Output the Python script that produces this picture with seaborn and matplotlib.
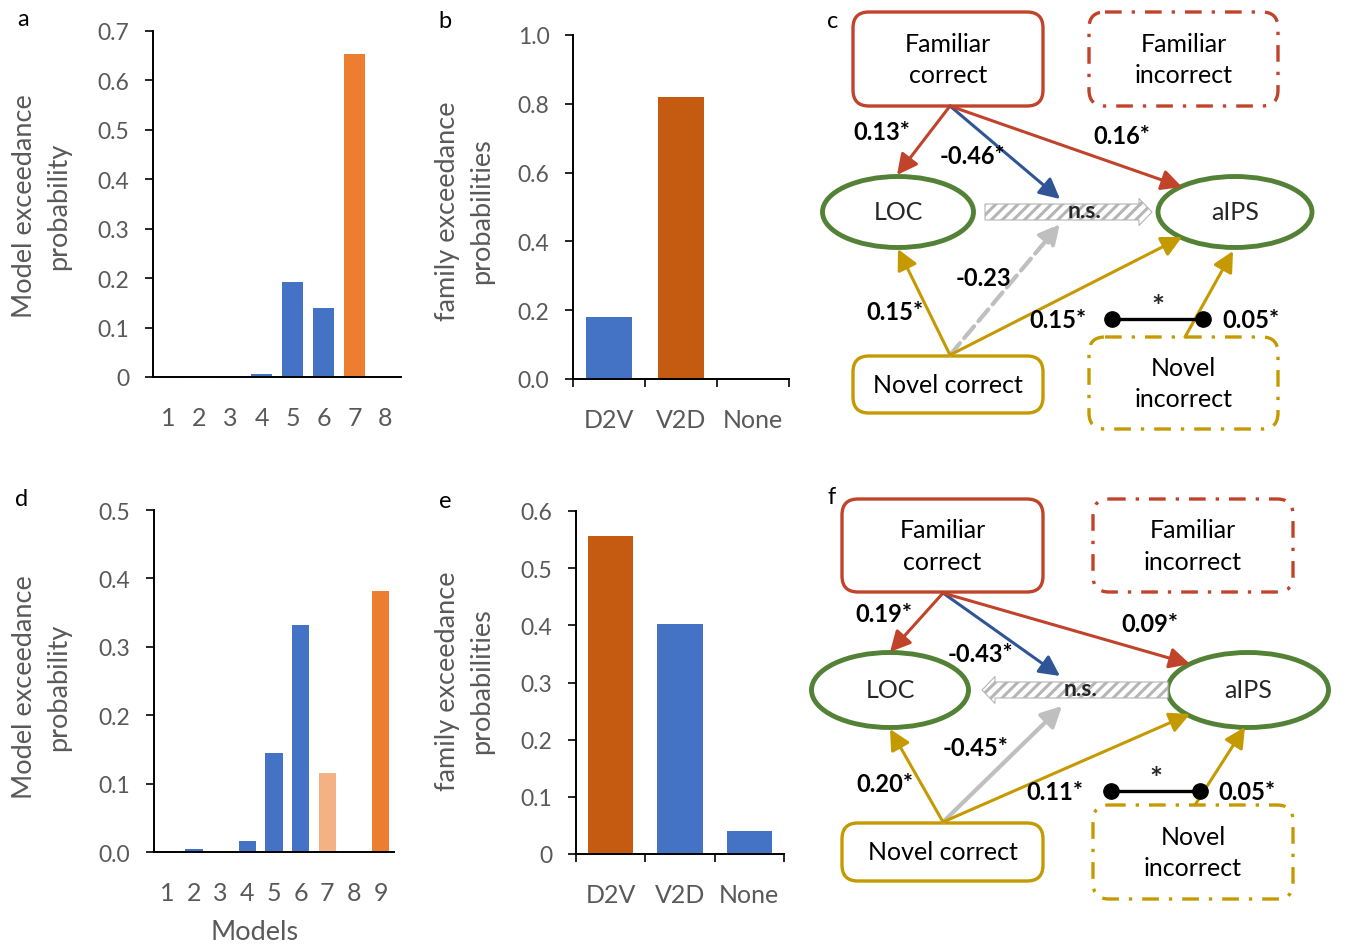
import numpy as np
import pandas as pd
import seaborn as sns
import matplotlib.pyplot as plt
from matplotlib.patches import FancyBboxPatch, Ellipse, FancyArrowPatch, FancyArrow

# ---- data ----
models_a = ["1", "2", "3", "4", "5", "6", "7", "8"]
exceed_a = [0.0, 0.003, 0.0, 0.006, 0.193, 0.139, 0.654, 0.0]

families = ["D2V", "V2D", "None"]
family_b = [0.180, 0.819, 0.0]

models_d = ["1", "2", "3", "4", "5", "6", "7", "8", "9"]
exceed_d = [0.0015, 0.005, 0.0, 0.016, 0.145, 0.332, 0.116, 0.0, 0.381]

family_e = [0.556, 0.403, 0.041]

# path coefficients: fam->LOC, fam->ns, fam->aIPS, nov->ns, nov->LOC, nov->aIPS, novinc->aIPS
coef_c = ["0.13*", "-0.46*", "0.16*", "-0.23", "0.15*", "0.15*", "0.05*"]
coef_f = ["0.19*", "-0.43*", "0.09*", "-0.45*", "0.20*", "0.11*", "0.05*"]

BLUE = "#4472C4"
ORANGE = "#ED7D31"
DARK_ORANGE = "#C55A11"
LIGHT_ORANGE = "#F4B183"
GRAY_TXT = "#595959"
RED = "#C0432A"
NAVY = "#2F5597"
GOLD = "#C49A00"
GREEN = "#538135"
LGRAY = "#BFBFBF"

sns.set_style("ticks")
plt.rcParams["font.family"] = ["Lato", "DejaVu Sans"]
plt.rcParams["hatch.linewidth"] = 2.2

W, H = 1354, 945
fig = plt.figure(figsize=(W / 100, H / 100), dpi=100)


def px_axes(l, t, r, b):
    return fig.add_axes([l / W, 1 - b / H, (r - l) / W, (b - t) / H])


def bar_panel(ax, cats, vals, pal, ymax, yticks, ylabs, boundary_ticks):
    df = pd.DataFrame({"cat": cats, "val": vals})
    sns.barplot(data=df, x="cat", y="val", hue="cat", palette=pal, legend=False,
                width=0.65, saturation=1, edgecolor="none", ax=ax)
    ax.set_xlim(-0.5, len(cats) - 0.5)
    ax.set_ylim(0, ymax)
    ax.set_yticks(yticks)
    ax.set_yticklabels(ylabs)
    ax.set_xlabel("")
    ax.set_ylabel("")
    sns.despine(ax=ax)
    for s in ["left", "bottom"]:
        ax.spines[s].set_linewidth(1.4)
        ax.spines[s].set_color("black")
    ax.tick_params(axis="y", length=6, width=1.4, pad=11, labelsize=16.5, labelcolor=GRAY_TXT)
    ax.tick_params(axis="x", which="major", length=0, pad=21, labelsize=18, labelcolor=GRAY_TXT)
    if boundary_ticks:
        ax.set_xticks(np.arange(-0.5, len(cats)), minor=True)
        ax.tick_params(axis="x", which="minor", length=6, width=1.4, direction="out")


# panel a
ax_a = px_axes(153, 32, 401, 378)
pal_a = [BLUE] * 6 + [ORANGE, BLUE]
bar_panel(ax_a, models_a, exceed_a, pal_a, 0.7, np.arange(0, 0.71, 0.1),
          ["0", "0.1", "0.2", "0.3", "0.4", "0.5", "0.6", "0.7"], False)

# panel b
ax_b = px_axes(573, 36, 789, 380)
bar_panel(ax_b, families, family_b, [BLUE, DARK_ORANGE, BLUE], 1.0, np.arange(0, 1.01, 0.2),
          ["0.0", "0.2", "0.4", "0.6", "0.8", "1.0"], True)

# panel d
ax_d = px_axes(154, 511, 394, 853)
pal_d = [BLUE] * 6 + [LIGHT_ORANGE, BLUE, ORANGE]
bar_panel(ax_d, models_d, exceed_d, pal_d, 0.5, np.arange(0, 0.51, 0.1),
          ["0.0", "0.1", "0.2", "0.3", "0.4", "0.5"], False)

# panel e
ax_e = px_axes(576, 512, 784, 855)
bar_panel(ax_e, families, family_e, [DARK_ORANGE, BLUE, BLUE], 0.6, np.arange(0, 0.61, 0.1),
          ["0", "0.1", "0.2", "0.3", "0.4", "0.5", "0.6"], True)


def ftext(x, y, s, **kw):
    fig.text(x / W, 1 - y / H, s, **kw)


ylab_kw = dict(rotation=90, ha="center", va="center", multialignment="center",
               fontsize=19.5, color=GRAY_TXT, linespacing=1.45)
ftext(42, 206, "Model exceedance\nprobability", **ylab_kw)
ftext(42, 687, "Model exceedance\nprobability", **ylab_kw)
ftext(465, 211, "family exceedance\nprobabilities", **ylab_kw)
ftext(465, 681, "family exceedance\nprobabilities", **ylab_kw)
ftext(255, 933, "Models", ha="center", va="center", fontsize=19.5, color=GRAY_TXT)

for s, x, y in [("a", 23, 20), ("b", 445, 21), ("c", 833, 21),
                ("d", 22, 500), ("e", 445, 502), ("f", 832, 498)]:
    ftext(x, y, s, ha="center", va="center", fontsize=17, color="black")

# ---- path diagrams (c, f), drawn in pixel coordinates ----
ax_g = fig.add_axes([800 / W, 0, 554 / W, 1])
ax_g.set_xlim(800, W)
ax_g.set_ylim(H, 0)
ax_g.axis("off")

DASHDOT = (0, (5, 3, 1, 3))


def box(x0, y0, x1, y1, color, text, dashed):
    p = FancyBboxPatch((x0, y0), x1 - x0, y1 - y0, boxstyle="round,pad=0,rounding_size=16",
                       fc="white", ec=color, lw=2.4, ls=DASHDOT if dashed else "-", zorder=2)
    ax_g.add_patch(p)
    ax_g.text((x0 + x1) / 2, (y0 + y1) / 2, text, ha="center", va="center", fontsize=18,
              linespacing=1.43, color="black", zorder=3)


def arrow(p0, p1, color, ls="-", lw=2.2):
    a = FancyArrowPatch(p0, p1, arrowstyle="-|>,head_length=0.65,head_width=0.33",
                        mutation_scale=19, color=color, lw=lw, ls=ls, shrinkA=0, shrinkB=0,
                        zorder=4)
    ax_g.add_patch(a)


def diagram(L, coefs, nov_ls):
    box(*L["fc"], RED, "Familiar\ncorrect", False)
    box(*L["fi"], RED, "Familiar\nincorrect", True)
    box(*L["nc"], GOLD, "Novel correct", False)
    box(*L["ni"], GOLD, "Novel\nincorrect", True)
    for key, name in [("loc", "LOC"), ("aips", "aIPS")]:
        cx, cy, w, h = L[key]
        ax_g.add_patch(Ellipse((cx, cy), w, h, fc="white", ec=GREEN, lw=3.5, zorder=2))
        ax_g.text(cx, cy, name, ha="center", va="center", fontsize=18, zorder=3)
    # hatched non-significant arrow
    x0, x1, y = L["ns"]
    ax_g.add_patch(FancyArrow(x0, y, x1 - x0, 0, width=16, head_width=27, head_length=13,
                              length_includes_head=True, fc="white", ec="#B5B5B5",
                              hatch="///", lw=0.8, zorder=2))
    ax_g.text(*L["ns_txt"], "n.s.", ha="center", va="center", fontsize=16.5,
              fontweight="bold", zorder=5)
    arrow(L["top"], L["to_loc"], RED)
    arrow(L["top"], L["to_ns"], NAVY)
    arrow(L["top"], L["to_aips"], RED)
    arrow(L["bot"], L["nov_ns"], LGRAY, ls=nov_ls, lw=3.0)
    arrow(L["bot"], L["nov_loc"], GOLD)
    arrow(L["bot"], L["nov_aips"], GOLD)
    arrow(L["ni_top"], L["ni_aips"], GOLD)
    (cx0, cx1, cy) = L["conn"]
    ax_g.plot([cx0, cx1], [cy, cy], color="black", lw=2.4, marker="o", ms=11, zorder=5)
    ax_g.text((cx0 + cx1) / 2, cy - 12, "*", ha="center", va="center", fontsize=22,
              fontweight="bold")
    for s, (x, y) in zip(coefs, L["lab"]):
        ax_g.text(x, y, s, ha="center", va="center", fontsize=17, fontweight="bold",
                  color="black", zorder=6)


lay_c = dict(
    fc=(853, 13, 1043, 107), fi=(1089, 13, 1278, 107),
    nc=(853, 357, 1043, 414), ni=(1089, 338, 1278, 430),
    loc=(898, 213, 151, 71), aips=(1235, 213, 154, 71),
    ns=(985, 1152, 213), ns_txt=(1085, 212),
    top=(950, 107), to_loc=(897, 176), to_ns=(1060, 200), to_aips=(1182, 188),
    bot=(950, 356), nov_ns=(1060, 225), nov_loc=(898, 250), nov_aips=(1182, 238),
    ni_top=(1185, 338), ni_aips=(1233, 252),
    conn=(1112, 1203, 320),
    lab=[(882, 133), (972, 157), (1122, 136), (983, 279), (895, 313), (1058, 320), (1251, 320)],
)

lay_f = dict(
    fc=(842, 500, 1043, 593), fi=(1093, 500, 1293, 593),
    nc=(842, 824, 1043, 882), ni=(1093, 806, 1293, 900),
    loc=(890, 691, 157, 75), aips=(1248, 691, 161, 75),
    ns=(1168, 982, 691), ns_txt=(1081, 690),
    top=(943, 594), to_loc=(890, 653), to_ns=(1060, 677), to_aips=(1190, 665),
    bot=(943, 823), nov_ns=(1062, 707), nov_loc=(890, 730), nov_aips=(1190, 715),
    ni_top=(1195, 806), ni_aips=(1245, 728),
    conn=(1111, 1200, 792),
    lab=[(884, 615), (980, 655), (1150, 625), (976, 748), (885, 785), (1055, 792), (1247, 792)],
)

diagram(lay_c, coef_c, "--")
diagram(lay_f, coef_f, "-")

fig.savefig("out.png", dpi=100)
